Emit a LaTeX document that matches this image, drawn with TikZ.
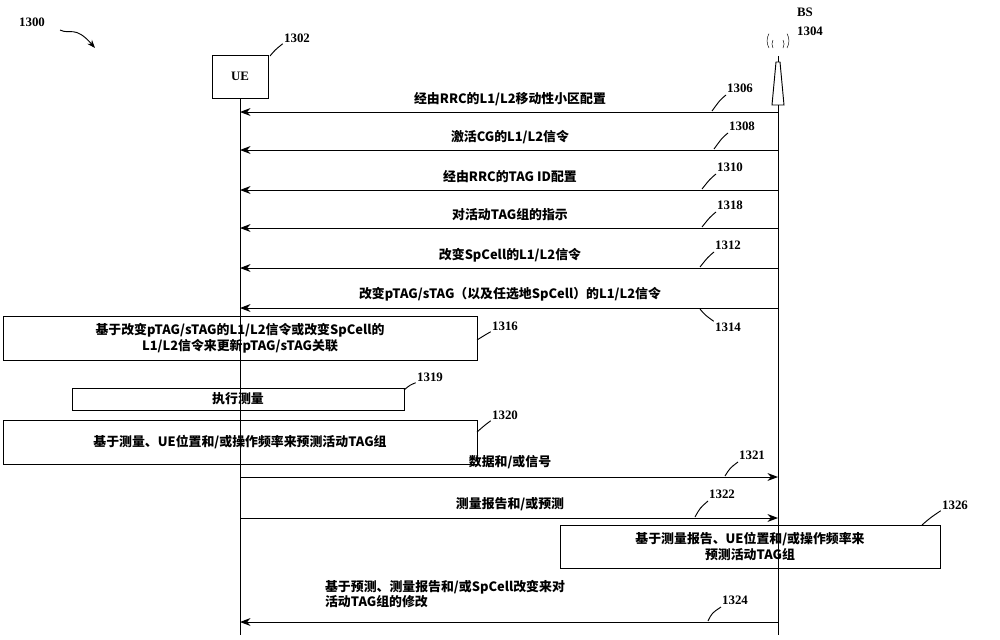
\documentclass[tikz,border=0pt]{standalone}
\usepackage{fontspec}
\setmainfont{Liberation Serif}
\newfontfamily\cjk{Noto Sans CJK SC}
\usetikzlibrary{arrows.meta}
\tikzset{
  msg/.style={thick,-{Stealth[length=9pt]}},
  lbl/.style={font=\bfseries\cjk\fontsize{11}{13}\selectfont,inner sep=1pt},
  refno/.style={font=\bfseries\fontsize{11}{13}\selectfont,inner sep=1pt},
  lead/.style={thick},
  actbox/.style={draw,thick,font=\bfseries\cjk\fontsize{11}{14}\selectfont,align=center,inner sep=0pt}
}
\begin{document}
\begin{tikzpicture}[x=0.3mm,y=-0.3mm]
\useasboundingbox (0,0) rectangle (1000,639);
% entities
\node[draw,thick,minimum width=16.8mm,minimum height=12.9mm,font=\bfseries\fontsize{11}{13}\selectfont] (ue) at (240,76.5) {UE};
\coordinate (ueend) at (240,635);
\draw[thick] (ue.south) -- (ueend);
\coordinate (bsend) at (778,635);
\draw[thick] (772,105) -- (776,62) -- (780,62) -- (784,105) -- cycle;
\draw[thick] (778,62) -- (778,56);
\foreach \r in {5,9}{
  \draw (778-\r,48) arc (150:210:\r*1.6);
  \draw (778+\r,48) arc (30:-30:\r*1.6);
}
\draw[thick] (778,105) -- (bsend);
\node[refno] (n1300) at (32,22) {1300};
\draw[lead,-{Stealth[length=7pt]}] (60,30) .. controls (70,35) and (75,25) .. (95,48);
\node[refno] (n1302) at (297,38) {1302};
\draw[lead] (n1302.south west) .. controls (275,50) .. (270,56);
\node[refno] (bs) at (805,12) {BS};
\node[refno] (n1304) at (810,31) {1304};
% messages BS -> UE
\foreach \y/\t/\n/\nx/\ny in {
  112/{经由RRC的L1/L2移动性小区配置}/1306/740/88,
  150/{激活CG的L1/L2信令}/1308/742/126,
  190/{经由RRC的TAG ID配置}/1310/730/167,
  228/{对活动TAG组的指示}/1318/730/205,
  268/{改变SpCell的L1/L2信令}/1312/728/245}{
  \coordinate (s\n) at (778,\y);
  \coordinate (e\n) at (240,\y);
  \draw[msg] (s\n) -- (e\n);
  \node[lbl] (t\n) at (510,\y-13) {\t};
  \node[refno] (r\n) at (\nx,\ny) {\n};
  \draw[lead] (\nx-14,\ny+7) .. controls (\nx-20,\ny+12) .. (\nx-28,\y-1);
}
\coordinate (s1314) at (778,308);
\coordinate (e1314) at (240,308);
\draw[msg] (s1314) -- (e1314);
\node[lbl] (t1314) at (510,294) {改变pTAG/sTAG（以及任选地SpCell）的L1/L2信令};
\node[refno] (r1314) at (728,327) {1314};
\draw[lead] (r1314.north west) .. controls (705,315) .. (700,309);
% actions at UE
\node[actbox,minimum width=142.2mm,minimum height=13.2mm] (b1316) at (240,338) {基于改变pTAG/sTAG的L1/L2信令或改变SpCell的\\L1/L2信令来更新pTAG/sTAG关联};
\node[refno] (r1316) at (505,326) {1316};
\draw[lead] (r1316.south west) .. controls (485,335) .. (477,340);
\node[actbox,minimum width=99.6mm,minimum height=6.6mm] (b1319) at (238,399) {执行测量};
\node[refno] (r1319) at (430,377) {1319};
\draw[lead] (r1319.south west) .. controls (410,385) .. (404,390);
\node[actbox,minimum width=142.2mm,minimum height=13.2mm] (b1320) at (240,442) {基于测量、UE位置和/或操作频率来预测活动TAG组};
\node[refno] (r1320) at (505,415) {1320};
\draw[lead] (r1320.south west) .. controls (485,425) .. (477,432);
% UE -> BS
\coordinate (s1321) at (240,477);
\coordinate (e1321) at (778,477);
\draw[msg] (s1321) -- (e1321);
\node[lbl] (t1321) at (510,462) {数据和/或信号};
\node[refno] (r1321) at (752,455) {1321};
\draw[lead] (738,462) .. controls (730,468) .. (725,476);
\coordinate (s1322) at (240,518);
\coordinate (e1322) at (778,518);
\draw[msg] (s1322) -- (e1322);
\node[lbl] (t1322) at (510,504) {测量报告和/或预测};
\node[refno] (r1322) at (722,494) {1322};
\draw[lead] (708,501) .. controls (700,508) .. (695,517);
% action at BS
\node[actbox,minimum width=114mm,minimum height=12.9mm] (b1326) at (750,546.5) {基于测量报告、UE位置和/或操作频率来\\预测活动TAG组};
\node[refno] (r1326) at (955,505) {1326};
\draw[lead] (r1326.south west) .. controls (930,518) .. (922,525);
% BS -> UE
\coordinate (s1324) at (778,622);
\coordinate (e1324) at (240,622);
\draw[msg] (s1324) -- (e1324);
\node[lbl,align=left] (t1324) at (445,594) {基于预测、测量报告和/或SpCell改变来对\\活动TAG组的修改};
\node[refno] (r1324) at (735,600) {1324};
\draw[lead] (721,607) .. controls (712,613) .. (708,621);
\end{tikzpicture}
\end{document}
